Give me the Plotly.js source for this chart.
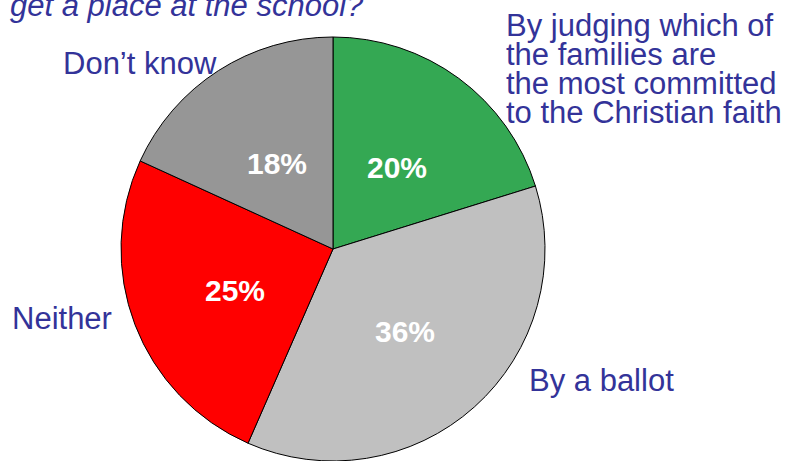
<!DOCTYPE html>
<html>
<head>
<meta charset="utf-8">
<script src="https://cdn.plot.ly/plotly-3.0.1.min.js"></script>
<style>html,body{margin:0;padding:0;overflow:hidden;background:#fff}</style>
</head>
<body>
<div id="chart" style="width:787px;height:461px"></div>
<script>
// Data
var categories = ["By judging which of the families are the most committed to the Christian faith", "By a ballot", "Neither", "Don’t know"];
var values = [20, 36, 25, 18];
var sliceColors = ["#34a853", "#c0c0c0", "#ff0000", "#969696"];
var titleText = "get a place at the school?";
var rightLabelLines = ["By judging which of", "the families are", "the most committed", "to the Christian faith"];

var W = 787, H = 461;
var FONT = "Liberation Sans, Arial, Helvetica, sans-serif";
var BLUE = "#333399";
var FS = 31;

function px(x){ return x / W; }
function py(y){ return 1 - y / H; }

var cx = 333, R = 212, cy = 37 + R;
var trace = {
  type: "pie",
  labels: categories,
  values: values,
  sort: false,
  direction: "clockwise",
  rotation: 0,
  marker: {colors: sliceColors, line: {color: "#000000", width: 1}},
  textinfo: "none",
  hoverinfo: "none",
  showlegend: false,
  domain: {x: [px(cx - R), px(cx + R)], y: [0, py(37)]}
};

var ann = [];
function addText(t, x, y, italic){
  ann.push({text: t, x: px(x), y: py(y), xref: "paper", yref: "paper",
    xanchor: "left", yanchor: "middle", showarrow: false, align: "left",
    font: {family: FONT, size: FS, color: BLUE, style: italic ? "italic" : "normal"}});
}
addText(titleText, 8, 5, true);
var rightY = [25, 54, 83, 112];
for (var i = 0; i < rightLabelLines.length; i++) addText(rightLabelLines[i], 504, rightY[i]);
addText(categories[3], 61, 63);
addText(categories[2], 10, 318);
addText(categories[1], 527, 380);

// percentage labels at the middle angle of each slice, half way out
var total = values.reduce(function(a, b){ return a + b; }, 0);
var cum = 0;
for (var k = 0; k < values.length; k++) {
  var mid = (cum + values[k] / 2) / total * 2 * Math.PI;
  cum += values[k];
  var r = 0.5 * R;
  ann.push({text: "<b>" + values[k] + "%</b>", x: px(cx + 1 + r * Math.sin(mid)), y: py(cy + 4 - r * Math.cos(mid)),
    xref: "paper", yref: "paper", xanchor: "center", yanchor: "middle", showarrow: false,
    font: {family: FONT, size: 30, color: "#ffffff"}});
}

Plotly.newPlot("chart", [trace], {
  width: W, height: H,
  margin: {l: 0, r: 0, t: 0, b: 0},
  paper_bgcolor: "#ffffff",
  annotations: ann,
  showlegend: false
}, {staticPlot: true});
</script>
</body>
</html>
